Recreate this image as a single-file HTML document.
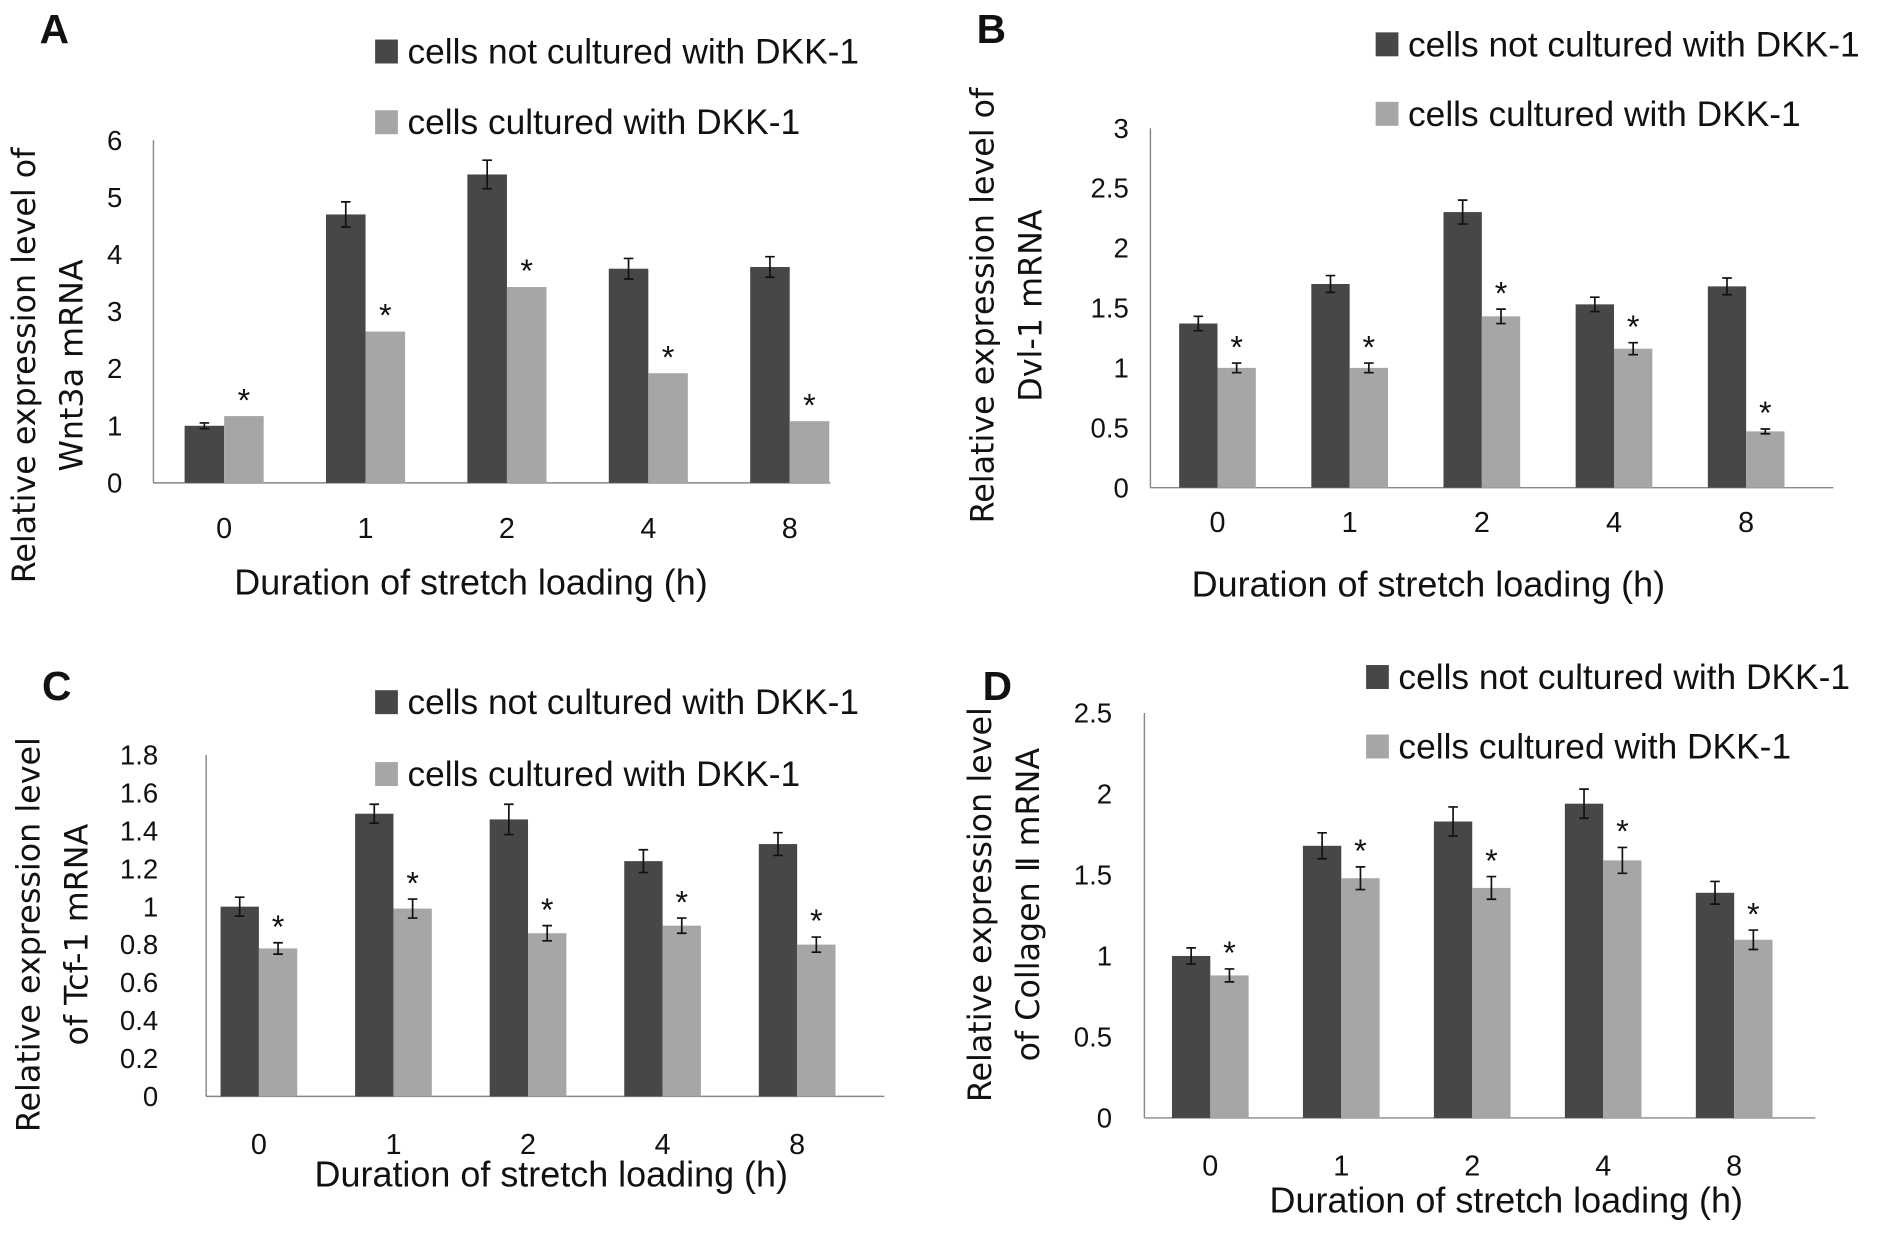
<!DOCTYPE html>
<html><head><meta charset="utf-8"><style>
html,body{margin:0;padding:0;background:#fff;}
svg{display:block;}
text{fill:#111;}
.t{font-family:"Liberation Sans Narrow","Liberation Sans",sans-serif;}
.y{font-family:"DejaVu Sans","Liberation Sans",sans-serif;}
</style></head><body>
<svg id="fig" width="1879" height="1233" viewBox="0 0 1568 1029" xmlns="http://www.w3.org/2000/svg"></svg>
<script>
const categories = ["0","1","2","4","8"];
const aDark = [1.0,4.7,5.4,3.75,3.78];
const aLight = [1.17,2.65,3.43,1.92,1.08];
const aDarkErr = [0.05,0.22,0.25,0.18,0.18];
const aLightErr = [0,0,0,0,0];
const aTicks = ["0","1","2","3","4","5","6"];
const bDark = [1.37,1.7,2.3,1.53,1.68];
const bLight = [1.0,1.0,1.43,1.16,0.47];
const bDarkErr = [0.06,0.07,0.1,0.06,0.07];
const bLightErr = [0.04,0.04,0.06,0.05,0.02];
const bTicks = ["0","0.5","1","1.5","2","2.5","3"];
const cDark = [1.0,1.49,1.46,1.24,1.33];
const cLight = [0.78,0.99,0.86,0.9,0.8];
const cDarkErr = [0.05,0.05,0.08,0.06,0.06];
const cLightErr = [0.03,0.05,0.04,0.04,0.04];
const cTicks = ["0","0.2","0.4","0.6","0.8","1","1.2","1.4","1.6","1.8"];
const dDark = [1.0,1.68,1.83,1.94,1.39];
const dLight = [0.88,1.48,1.42,1.59,1.1];
const dDarkErr = [0.05,0.08,0.09,0.09,0.07];
const dLightErr = [0.04,0.07,0.07,0.08,0.06];
const dTicks = ["0","0.5","1","1.5","2","2.5"];

const NS="http://www.w3.org/2000/svg";
const svg=document.getElementById('fig');
function el(tag,attrs,parent,txt){const e=document.createElementNS(NS,tag);for(const k in attrs)e.setAttribute(k,attrs[k]);if(txt!==undefined)e.textContent=txt;(parent||svg).appendChild(e);return e;}

function panel(cfg){
  const g=el('g',{});
  
  
  const maxV=parseFloat(cfg.ticks[cfg.ticks.length-1]);
  const y=v=>cfg.y0-(v/maxV)*(cfg.y0-cfg.yTop);
  const x=i=>cfg.c0+i*cfg.step;
  const bw=cfg.bw;
  const lt=el('text',{x:cfg.lx,y:cfg.ly,'font-size':34,'font-weight':'bold',class:'t'},g,cfg.id);
  
  
  cfg.ticks.forEach(t=>{
    const tt=el('text',{x:cfg.ax-cfg.tickGap,y:y(parseFloat(t))+8,'font-size':23,'text-anchor':'end',class:'t'},g,t);
    
    
  });
  const ya=el('line',{x1:cfg.ax,y1:cfg.yTop,x2:cfg.ax,y2:cfg.y0,stroke:'#888','stroke-width':1.2},g);
  
  
  const xa=el('line',{x1:cfg.ax,y1:cfg.y0,x2:cfg.axR,y2:cfg.y0,stroke:'#888','stroke-width':1.2},g);
  
  
  categories.forEach((c,i)=>{
    const series=[[cfg.dark,cfg.dErr,'#474747',-bw],[cfg.light,cfg.lErr,'#a6a6a6',0]];
    series.forEach((s,si)=>{
      const v=s[0][i],e=s[1][i];
      const r=el('rect',{x:x(i)+s[3],y:y(v),width:bw,height:cfg.y0-y(v),fill:s[2]},g);
      
      
      const cx=x(i)+s[3]+bw/2;
      if(e>0){
        const eb=el('path',{d:`M${cx},${y(v+e)}V${y(v-e)}M${cx-4},${y(v+e)}H${cx+4}M${cx-4},${y(v-e)}H${cx+4}`,stroke:'#111','stroke-width':1.4,fill:'none'},g);
        
        
      }
      if(si===1){
        const st=el('text',{x:cx,y:y(v+e)-4,'font-size':27,'text-anchor':'middle',class:'t'},g,'*');
        
        
      }
    });
    const xl=el('text',{x:x(i),y:cfg.xly,'font-size':24,'text-anchor':'middle',class:'t'},g,c);
    
    
  });
  const xt=el('text',{x:cfg.xtx,y:cfg.xty,'font-size':30,'text-anchor':'middle',class:'t'},g,'Duration of stretch loading (h)');
  
  
  const yt=el('text',{'font-size':26.5,'text-anchor':'middle',class:'y',transform:`translate(${cfg.ytx},${cfg.yty}) rotate(-90)`},g);
  
  
  el('tspan',{x:0,dy:0},yt,cfg.yt1);
  el('tspan',{x:0,dy:40},yt,cfg.yt2);
  [['cells not cultured with DKK-1','#474747',cfg.lgy1],['cells cultured with DKK-1','#a6a6a6',cfg.lgy2]].forEach((L,k)=>{
    const lg=el('g',{},g);
    
    
    el('rect',{x:cfg.lgx,y:L[2],width:19,height:20,fill:L[1]},lg);
    el('text',{x:cfg.lgx+27,y:L[2]+20,'font-size':29.5,class:'t'},lg,L[0]);
  });
}
panel({id:'A',lx:33,ly:36,ticks:aTicks,dark:aDark,light:aLight,dErr:aDarkErr,lErr:aLightErr,ax:128,axR:693,yTop:117,y0:403,c0:187,step:118,bw:33,tickGap:26,xly:449,xtx:393,xty:496,ytx:29,yty:305,yt1:'Relative expression level of',yt2:'Wnt3a mRNA',lgx:313,lgy1:33,lgy2:92});
panel({id:'B',lx:815,ly:36,ticks:bTicks,dark:bDark,light:bLight,dErr:bDarkErr,lErr:bLightErr,ax:960,axR:1530,yTop:107,y0:407,c0:1016,step:110.3,bw:32,tickGap:18,xly:444,xtx:1192,xty:498,ytx:829,yty:255,yt1:'Relative expression level of',yt2:'Dvl-1 mRNA',lgx:1148,lgy1:27,lgy2:85});
panel({id:'C',lx:35,ly:584,ticks:cTicks,dark:cDark,light:cLight,dErr:cDarkErr,lErr:cLightErr,ax:172,axR:738,yTop:630,y0:915,c0:216,step:112.3,bw:32,tickGap:40,xly:963,xtx:460,xty:990,ytx:33,yty:780,yt1:'Relative expression level',yt2:'of Tcf-1 mRNA',lgx:313,lgy1:576,lgy2:636});
panel({id:'D',lx:820,ly:584,ticks:dTicks,dark:dDark,light:dLight,dErr:dDarkErr,lErr:dLightErr,ax:955,axR:1515,yTop:595,y0:933,c0:1010,step:109.3,bw:32,tickGap:27,xly:981,xtx:1257,xty:1012,ytx:827,yty:755,yt1:'Relative expression level',yt2:'of Collagen Ⅱ mRNA',lgx:1140,lgy1:555,lgy2:613});
</script>
</body></html>
